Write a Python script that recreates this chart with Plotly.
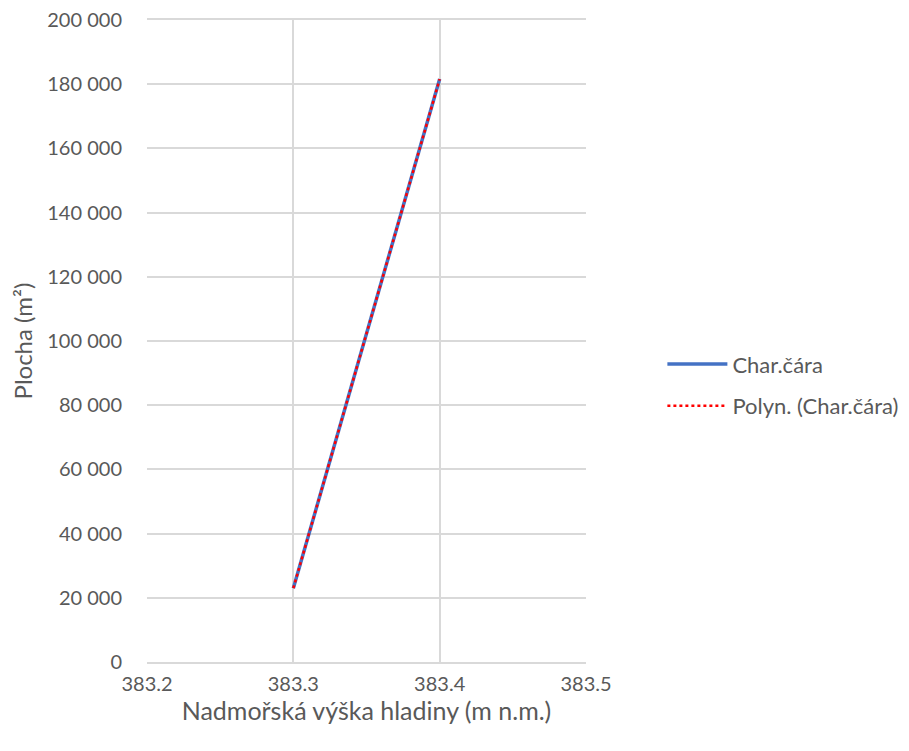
import plotly.graph_objects as go

x_vals = [383.3, 383.4]
y_vals = [23000, 181600]
trend_x = [383.3, 383.4]
trend_y = [23000, 181600]

x_ticks = [383.2, 383.3, 383.4, 383.5]
y_ticks = [0, 20000, 40000, 60000, 80000, 100000, 120000, 140000, 160000, 180000, 200000]

series_name = "Char.čára"
trend_name = "Polyn. (Char.čára)"

font_family = "Lato, Open Sans, sans-serif"
gray = "#595959"
grid = "#d9d9d9"

fig = go.Figure()
fig.add_trace(go.Scatter(x=x_vals, y=y_vals, mode="lines", name=series_name,
                         legendgroup="a",
                         line=dict(color="#4472C4", width=3.5)))
fig.add_trace(go.Scatter(x=trend_x, y=trend_y, mode="lines", name=trend_name,
                         legendgroup="b",
                         line=dict(color="#FF0000", width=2.5, dash="dot")))

fig.update_layout(
    width=909, height=751,
    margin=dict(l=139, r=331, t=12, b=97, autoexpand=False),
    paper_bgcolor="white", plot_bgcolor="white",
    separators=". ",
    font=dict(family=font_family, size=20, color=gray),
    showlegend=True,
    legend=dict(x=1.174, y=0.431, xanchor="left", yanchor="middle",
                font=dict(size=22, color=gray), tracegroupgap=10,
                itemwidth=60),
    xaxis=dict(range=[383.2, 383.5], tickmode="array", tickvals=x_ticks, tickformat=".1f",
               showgrid=True, gridcolor=grid, gridwidth=1.5,
               zeroline=False, showline=True, mirror=True, linecolor=grid, linewidth=1.5,
               ticks="", automargin=False,
               ticklabelstandoff=3,
               title=dict(text="Nadmořská výška hladiny (m n.m.)", font=dict(size=25, color=gray), standoff=6)),
    yaxis=dict(range=[0, 200000], tickmode="array", tickvals=y_ticks, tickformat=",d",
               showgrid=True, gridcolor=grid, gridwidth=1.5,
               zeroline=True, zerolinecolor=grid, zerolinewidth=1.5,
               showline=False, ticks="", automargin=False,
               ticklabelstandoff=24, ticklabeloverflow="allow",
               title=dict(text="Plocha (m²)", font=dict(size=24, color=gray), standoff=14)),
)

fig.write_html("out.html")
